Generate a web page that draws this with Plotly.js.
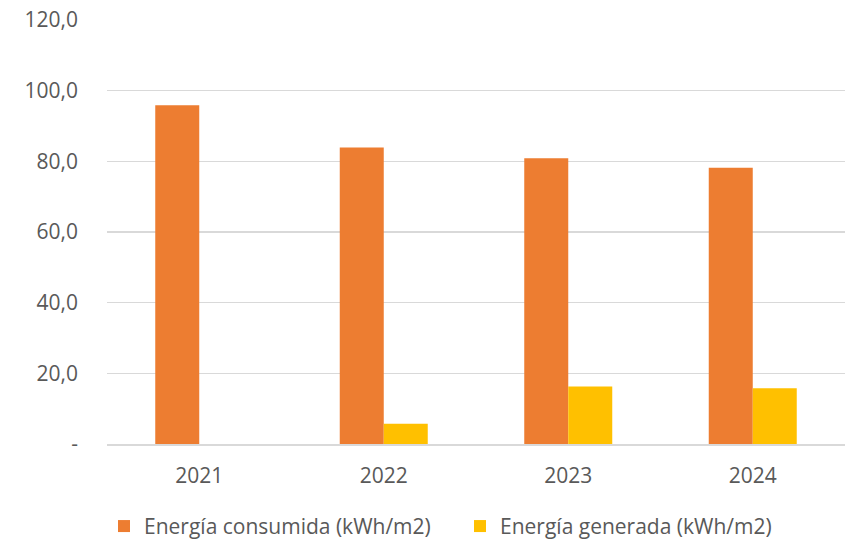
<!DOCTYPE html>
<html><head><meta charset="utf-8">
<script src="https://cdn.plot.ly/plotly-3.0.1.min.js"></script>
<style>html,body{margin:0;padding:0;background:#fff}#chart{width:845px;height:539px}</style>
</head><body><div id="chart"></div>
<script>
const years = ['2021','2022','2023','2024'];
const consumida = [95.9, 83.9, 80.9, 78.2];
const generada = [null, 5.7, 16.3, 15.8];
const seriesNames = ['Energía consumida (kWh/m2)', 'Energía generada (kWh/m2)'];
const yTickVals = [0, 20, 40, 60, 80, 100, 120];
const yTickText = ['-', '20,0', '40,0', '60,0', '80,0', '100,0', '120,0'];

const font = {family: 'Open Sans, Noto Sans, sans-serif', size: 21, color: '#595959'};
const data = [
  {type: 'bar', x: years, y: consumida, name: seriesNames[0], marker: {color: '#ED7D31'}, hoverinfo: 'none'},
  {type: 'bar', x: years, y: generada, name: seriesNames[1], marker: {color: '#FFC000'}, hoverinfo: 'none'}
];
const layout = {
  width: 845, height: 539,
  margin: {l: 107, r: 0, t: 20, b: 95, autoexpand: false},
  paper_bgcolor: '#fff', plot_bgcolor: '#fff',
  font: font,
  barmode: 'group', bargap: 0.523, bargroupgap: 0,
  xaxis: {type: 'category', showgrid: false, showline: true, linecolor: '#D9D9D9', linewidth: 1.5,
          ticks: '', ticklabelstandoff: 12, tickfont: font},
  yaxis: {range: [0, 120], tickvals: yTickVals, ticktext: yTickText, showgrid: true, gridcolor: '#D9D9D9',
          gridwidth: 1.5, zeroline: false, showline: false, ticks: '', ticklabelstandoff: 28, tickfont: font},
  showlegend: true,
  legend: {orientation: 'h', xref: 'container', x: 104/845, xanchor: 'left', y: -0.146, yanchor: 'top', font: font,
           itemwidth: 30, traceorder: 'normal', entrywidth: 311, entrywidthmode: 'pixels'}
};
Plotly.newPlot('chart', data, layout, {staticPlot: true});
</script></body></html>
